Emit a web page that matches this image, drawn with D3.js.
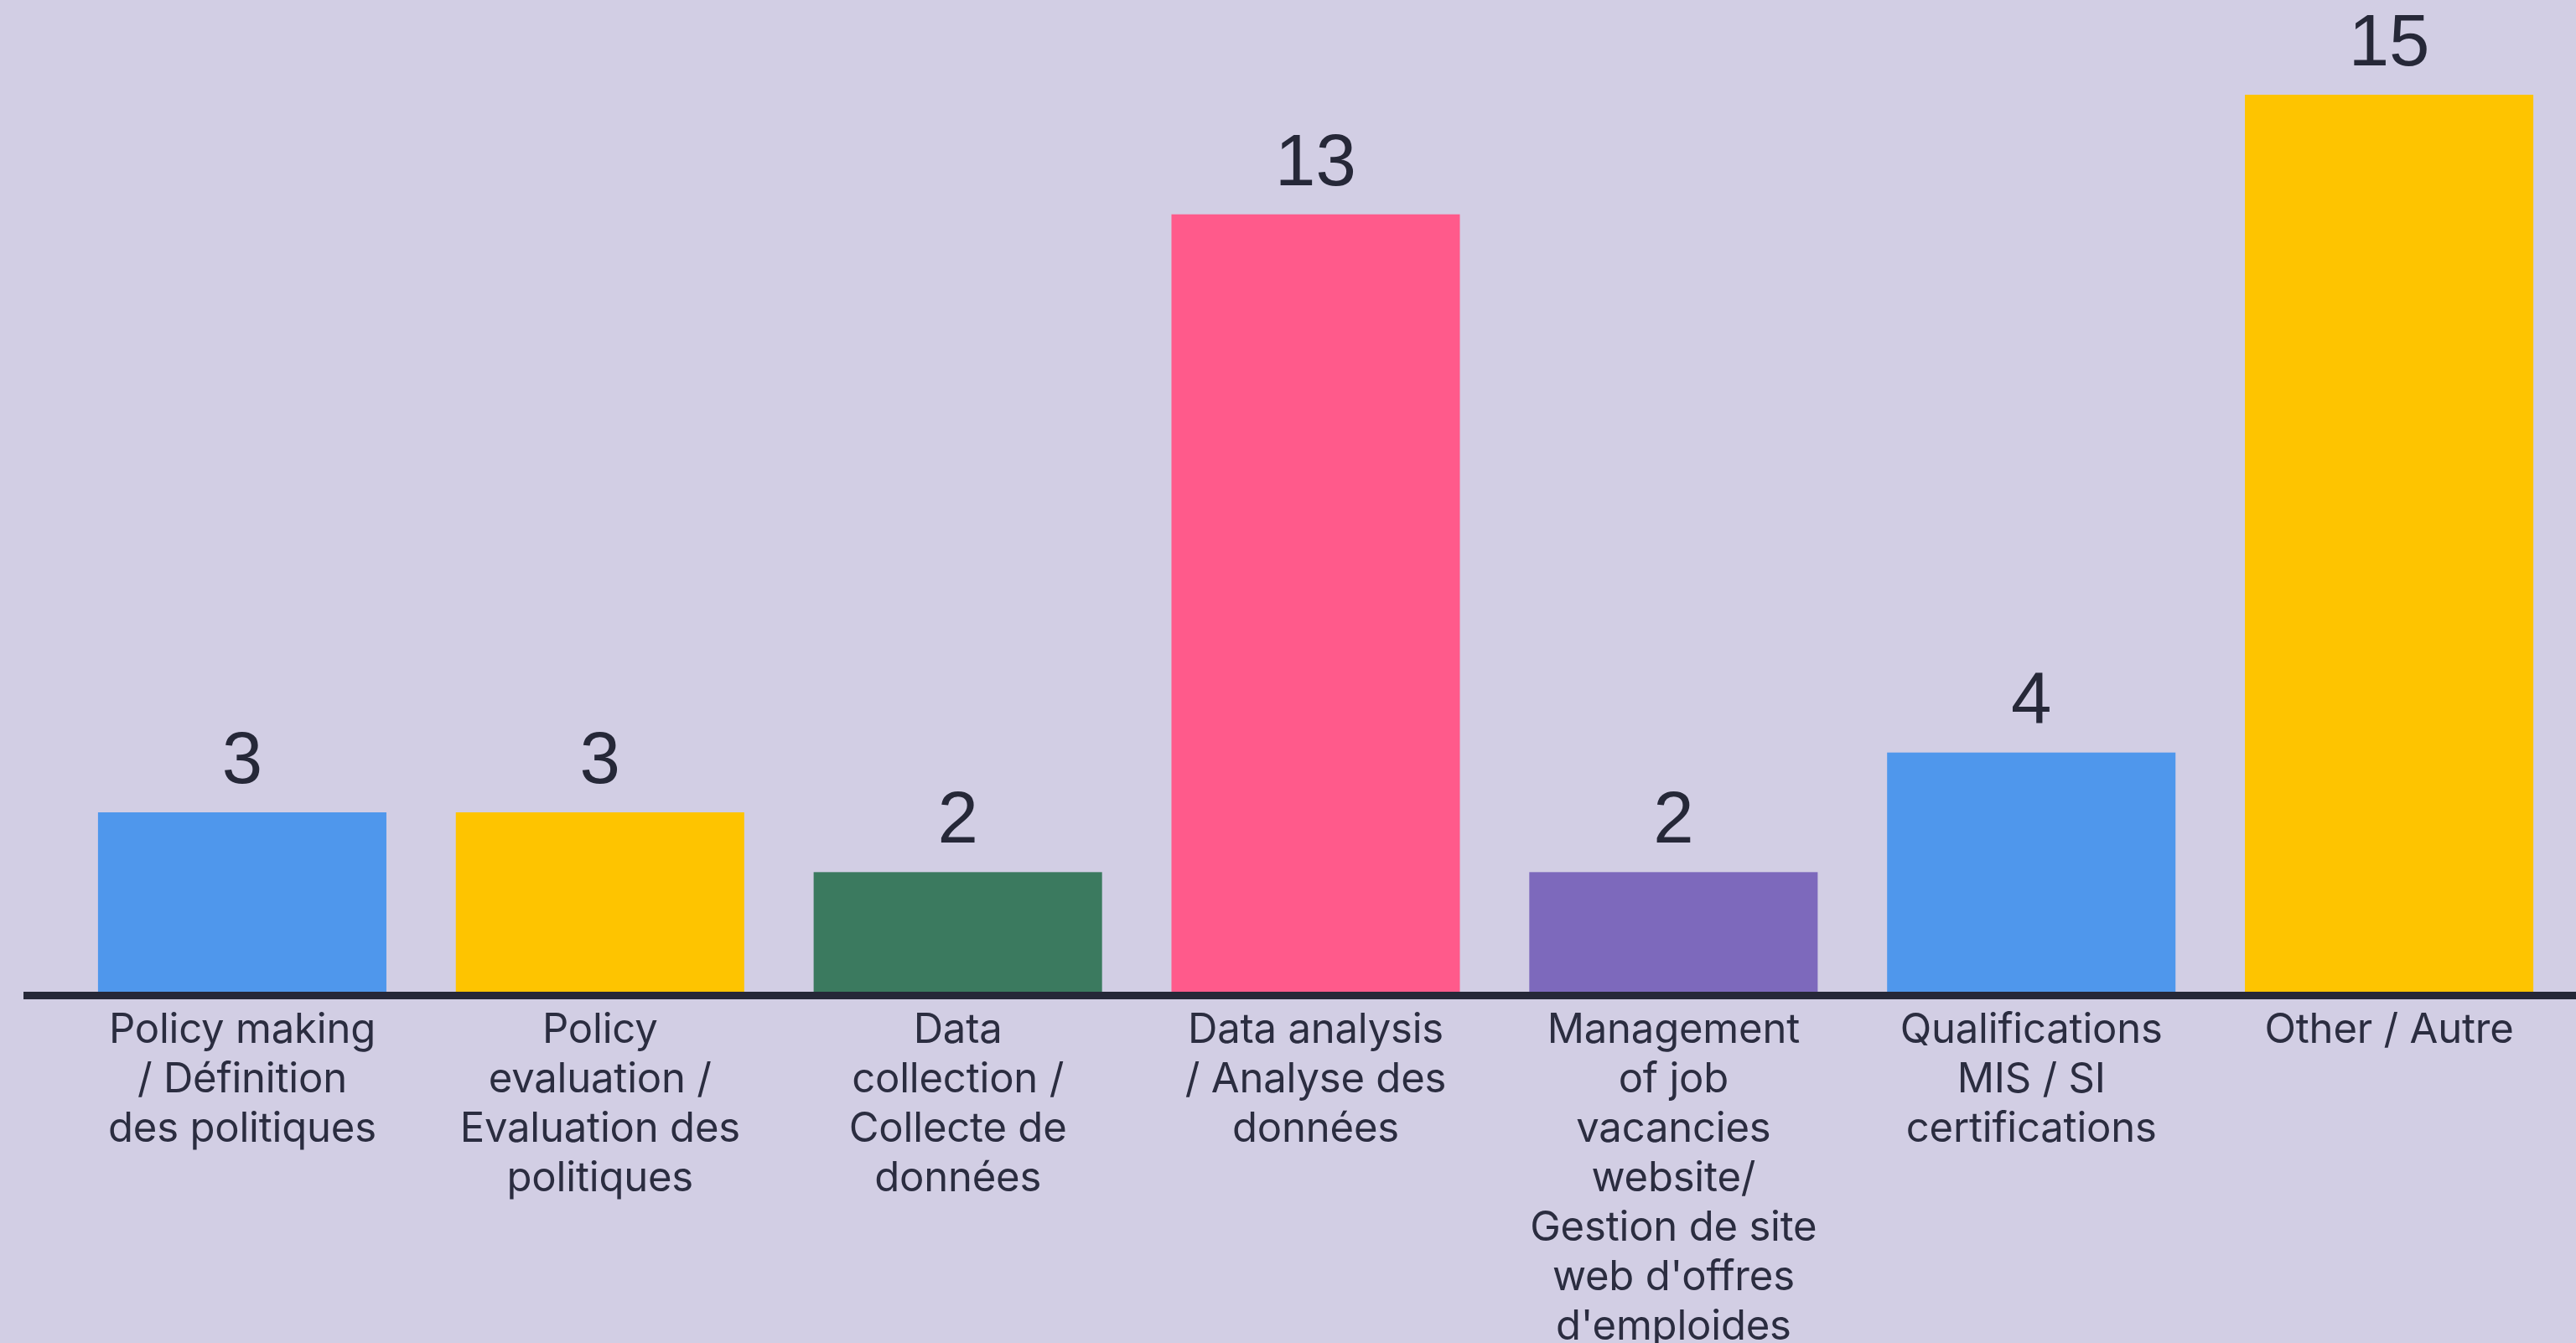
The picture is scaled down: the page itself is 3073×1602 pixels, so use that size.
<!DOCTYPE html>
<html>
<head>
<meta charset="utf-8">
<script src="https://cdn.jsdelivr.net/npm/d3@7"></script>
<style>
  html, body { margin: 0; padding: 0; background: #d2cee4; overflow: hidden; }
</style>
</head>
<body>
<div id="container"></div>
<script>
let w = 3073;
let h = 1602;

// DATA
let categories = ["policy", "evaluation", "collection", "analysis", "website", "mis", "other"];
let values = [3, 3, 2, 13, 2, 4, 15];
let tickLabels = [
  ["Policy making", "/ Définition", "des politiques"],
  ["Policy", "evaluation /", "Evaluation des", "politiques"],
  ["Data", "collection /", "Collecte de", "données"],
  ["Data analysis", "/ Analyse des", "données"],
  ["Management", "of job", "vacancies", "website/", "Gestion de site", "web d'offres", "d'emploides"],
  ["Qualifications", "MIS / SI", "certifications"],
  ["Other / Autre"]
];
let barColors = ["#4f97ec", "#fec400", "#3b7a5f", "#ff5a8b", "#7d69bc", "#4f97ec", "#fec400"];

let baseY = 1183;

// SVG
let viz = d3.select("#container").append("svg")
  .attr("width", w)
  .attr("height", h)
  .style("background-color", "#d2cee4")
  .style("display", "block")
;

// SCALES
let xScale = d3.scaleBand()
  .domain(categories)
  .range([75.5, 3063.5])
  .paddingInner(0.194)
  .paddingOuter(0.097)
;
let yScale = d3.scaleLinear().domain([0, 15]).range([baseY, 113]);

// BARS
viz.selectAll(".bar").data(values).enter()
  .append("rect")
  .attr("class", "bar")
  .attr("x", function(d, i){ return xScale(categories[i]); })
  .attr("y", function(d){ return yScale(d); })
  .attr("width", xScale.bandwidth())
  .attr("height", function(d){ return baseY - yScale(d); })
  .attr("fill", function(d, i){ return barColors[i]; })
;

// value labels
viz.selectAll(".val").data(values).enter()
  .append("text")
  .attr("class", "val")
  .attr("x", function(d, i){ return xScale(categories[i]) + xScale.bandwidth() / 2; })
  .attr("y", function(d){ return yScale(d) - 35; })
  .attr("text-anchor", "middle")
  .style("font-family", "'Liberation Sans', Arial, sans-serif")
  .style("font-size", "87px")
  .style("fill", "#262838")
  .text(function(d){ return d; })
;

// X AXIS (line + multi-line labels)
let xAxis = d3.axisBottom(xScale).tickSize(0).tickFormat("");
let axisG = viz.append("g")
  .attr("transform", "translate(0," + 1187.5 + ")")
  .call(xAxis);
axisG.select(".domain").remove();

viz.append("line")
  .attr("x1", 28)
  .attr("x2", w)
  .attr("y1", 1187.5)
  .attr("y2", 1187.5)
  .attr("stroke", "#262838")
  .attr("stroke-width", 9)
;

axisG.selectAll(".tick").each(function(d, i){
  let t = d3.select(this).append("text")
    .attr("text-anchor", "middle")
    .attr("fill", "#2b2d40")
    .style("font-family", "Inter, 'Noto Sans', sans-serif")
    .style("font-size", "49px")
    .style("letter-spacing", "-0.2px");
  tickLabels[i].forEach(function(line, j){
    t.append("tspan")
      .attr("x", 0)
      .attr("y", 56.5 + j * 59)
      .text(line);
  });
});
</script>
</body>
</html>
